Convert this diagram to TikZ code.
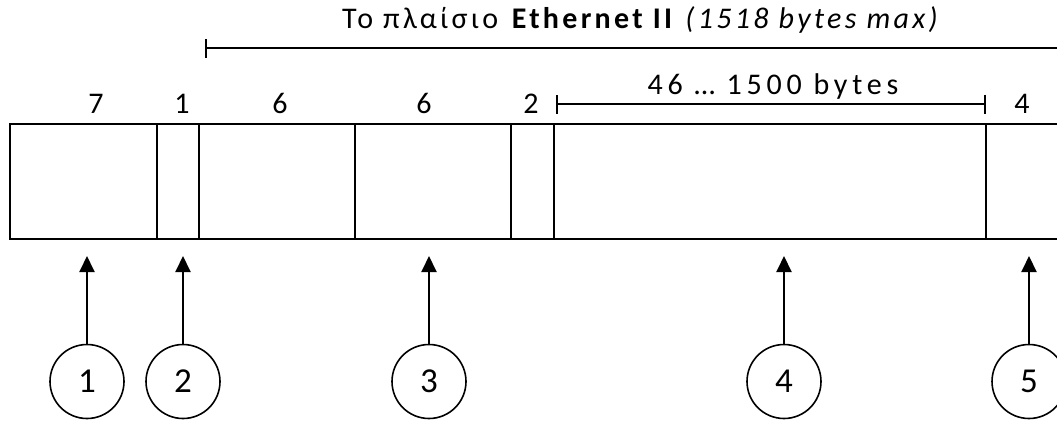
\documentclass[tikz,border=0pt]{standalone}
\usepackage{fontspec}
\setmainfont{Carlito}
\newfontfamily\titlefont[LetterSpace=11]{Carlito}
\newfontfamily\datafont[LetterSpace=16]{Carlito}
\usetikzlibrary{arrows.meta}
\begin{document}
\begin{tikzpicture}[x=1pt,y=1pt,
 field/.style={draw, line width=1.2pt, minimum height=115pt, inner sep=0pt, outer sep=0pt, anchor=north west},
 lbl/.style={font=\fontsize{30}{34}\selectfont, anchor=base, inner sep=0pt},
 slbl/.style={font=\datafont\fontsize{30}{34}\selectfont, anchor=base, inner sep=0pt},
 tlbl/.style={font=\titlefont\fontsize{30}{34}\selectfont, anchor=base, inner sep=0pt},
 num/.style={circle, draw, line width=1.6pt, minimum size=74pt, inner sep=0pt, font=\fontsize{35}{38}\selectfont},
 pointer/.style={line width=2pt, -{Triangle[width=15pt,length=16pt]}},
 spanline/.style={line width=2pt}]
\useasboundingbox (0,0) rectangle (1057,-421);
\clip (0,0) rectangle (1057,-421);
% frame fields
\node[field, minimum width=147pt] (pre) at (10,-124) {};
\node[field, minimum width=42pt] (sfd) at (pre.north east) {};
\node[field, minimum width=156pt] (dst) at (sfd.north east) {};
\node[field, minimum width=156pt] (src) at (dst.north east) {};
\node[field, minimum width=43pt] (typ) at (src.north east) {};
\node[field, minimum width=432pt] (data) at (typ.north east) {};
\node[field, minimum width=120pt] (fcs) at (data.north east) {};
% byte counts
\node[lbl] (l1) at (96,-113) {7};
\node[lbl] (l2) at (182,-113) {1};
\node[lbl] (l3) at (280,-113) {6};
\node[lbl] (l4) at (424,-113) {6};
\node[lbl] (l5) at (531,-113) {2};
\node[lbl] (l6) at (1022,-113) {4};
% data span
\coordinate (ds) at (556,-104);
\coordinate (de) at (986,-104);
\draw[spanline, {Bar[width=19pt]}-{Bar[width=19pt]}] (ds) -- (de);
\node[slbl] (dlbl) at (773,-94) {46 … 1500 bytes};
% frame span
\coordinate (fs) at (205,-48);
\coordinate (fe) at (1070,-48);
\draw[spanline, {Bar[width=19pt]}-] (fs) -- (fe);
\node[tlbl] (title) at (641.5,-28) {Το πλαίσιο \textbf{Ethernet II} \textit{(1518 bytes max)}};
% numbered circles
\node[num] (c1) at (87,-381.5) {1};
\node[num] (c2) at (183,-381.5) {2};
\node[num] (c3) at (429,-381.5) {3};
\node[num] (c4) at (784,-381.5) {4};
\node[num] (c5) at (1029,-381.5) {5};
\coordinate (t1) at (87,-256);
\coordinate (t2) at (183,-256);
\coordinate (t3) at (429,-256);
\coordinate (t4) at (784,-256);
\coordinate (t5) at (1029,-256);
\draw[pointer] (c1) -- (t1);
\draw[pointer] (c2) -- (t2);
\draw[pointer] (c3) -- (t3);
\draw[pointer] (c4) -- (t4);
\draw[pointer] (c5) -- (t5);
\end{tikzpicture}
\end{document}
